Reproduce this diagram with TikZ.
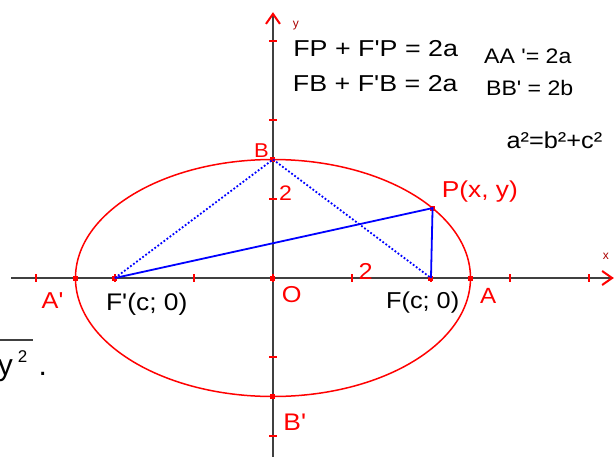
\documentclass[tikz,border=0pt]{standalone}
\usepackage{fontspec}
\setmainfont{Liberation Sans}
\usetikzlibrary{arrows.meta}
\definecolor{axgray}{RGB}{64,64,64}
\definecolor{elred}{RGB}{255,0,0}
\definecolor{lnblue}{RGB}{0,0,255}
\definecolor{tinyred}{RGB}{170,0,0}
\newcommand{\ap}{\textquotesingle}
\newcommand{\fs}[1]{\fontsize{#1}{#1}\selectfont}

\begin{document}
\begin{tikzpicture}[x=39.5pt, y=39.5pt,
    ax/.style={axgray, line width=1.8pt,
               -{Straight Barb[elred, length=10pt, width=14pt, line width=2pt]}},
    tk/.style={elred, line width=1.4pt},
    pt/.style={rectangle, fill=elred, minimum size=5pt, inner sep=0pt},
    bl/.style={lnblue, line width=1.8pt},
    bd/.style={lnblue, line width=1.8pt, dotted},
    lb/.style={inner sep=0pt, anchor=base west, xscale=1.1, font=\fs{23}},
    rl/.style={lb, elred}]
  \useasboundingbox (-6.911,-4.582) rectangle (8.684,7.038);
  % axes and ticks
  \draw[ax] (-6.63,0) -- (8.63,0);
  \draw[ax] (0,-4.53) -- (0,6.73);
  \foreach \t in {-6,-4,-2,0,2,4,6,8}
    \draw[tk] (\t,-0.1) -- (\t,0.1);
  \foreach \t in {-4,-2,2,4,6}
    \draw[tk] (-0.1,\t) -- (0.1,\t);
  \node[inner sep=0pt, tinyred, font=\fs{12}] (ylab) at (0.58,6.38) {y};
  \node[inner sep=0pt, tinyred, font=\fs{12}] (xlab) at (8.43,0.56) {x};
  % ellipse
  \draw[elred, line width=1.5pt] (0,0) ellipse (5 and 3);
  % points
  \node[pt] (A)  at (5,0) {};
  \node[pt] (Ap) at (-5,0) {};
  \node[pt] (B)  at (0,3) {};
  \node[pt] (Bp) at (0,-3) {};
  \node[pt] (F)  at (4,0) {};
  \node[pt] (Fp) at (-4,0) {};
  \node[pt] (O)  at (0,0) {};
  \node[pt] (P)  at (4.04,1.77) {};
  % focal radii
  \draw[bl] (Fp.center) -- (P.center) -- (F.center);
  \draw[bd] (Fp.center) -- (B.center) -- (F.center);
  % labels
  \node[rl, font=\fs{20}] (lB)  at (-0.48,3.06) {B};
  \node[rl, font=\fs{21}] (l2y) at (0.15,1.95) {2};
  \node[rl, font=\fs{23}] (l2x) at (2.16,-0.03) {2};
  \node[rl, xscale=1.04] (lP)  at (4.27,2.03) {P(x, y)};
  \node[rl] (lAp) at (-5.86,-0.76) {A\ap};
  \node[lb, font=\fs{24}] (lFp) at (-4.23,-0.83) {F\ap(c; 0)};
  \node[rl] (lO)  at (0.22,-0.63) {O};
  \node[lb] (lF)  at (2.86,-0.76) {F(c; 0)};
  \node[rl, font=\fs{22}] (lA)  at (5.24,-0.64) {A};
  \node[rl, font=\fs{24}] (lBp) at (0.26,-3.85) {B\ap};
  % relations
  \node[lb, xscale=1.06] (eqP) at (0.51,5.60) {FP + F\ap P = 2a};
  \node[lb, xscale=1.06] (eqB) at (0.50,4.72) {FB + F\ap B = 2a};
  \node[lb, font=\fs{21}] (eqA) at (5.34,5.42) {AA \ap= 2a};
  \node[lb, font=\fs{21}] (eqBB) at (5.39,4.63) {BB\ap\ = 2b};
  \node[lb] (rel) at (5.91,3.28) {a²=b²+c²};
  % cut-off formula at the left edge
  \draw[axgray, line width=1.2pt] (-6.95,-1.57) -- (-6.08,-1.57);
  \node[inner sep=0pt, anchor=base east, font=\fs{30}] (ly) at (-6.58,-2.456) {y};
  \node[inner sep=0pt, anchor=base west, font=\fs{17}] (lsq) at (-6.463,-2.127) {2};
  \node[inner sep=0pt, anchor=base west, font=\fs{30}] (ldot) at (-5.94,-2.456) {.};
\end{tikzpicture}
\end{document}
